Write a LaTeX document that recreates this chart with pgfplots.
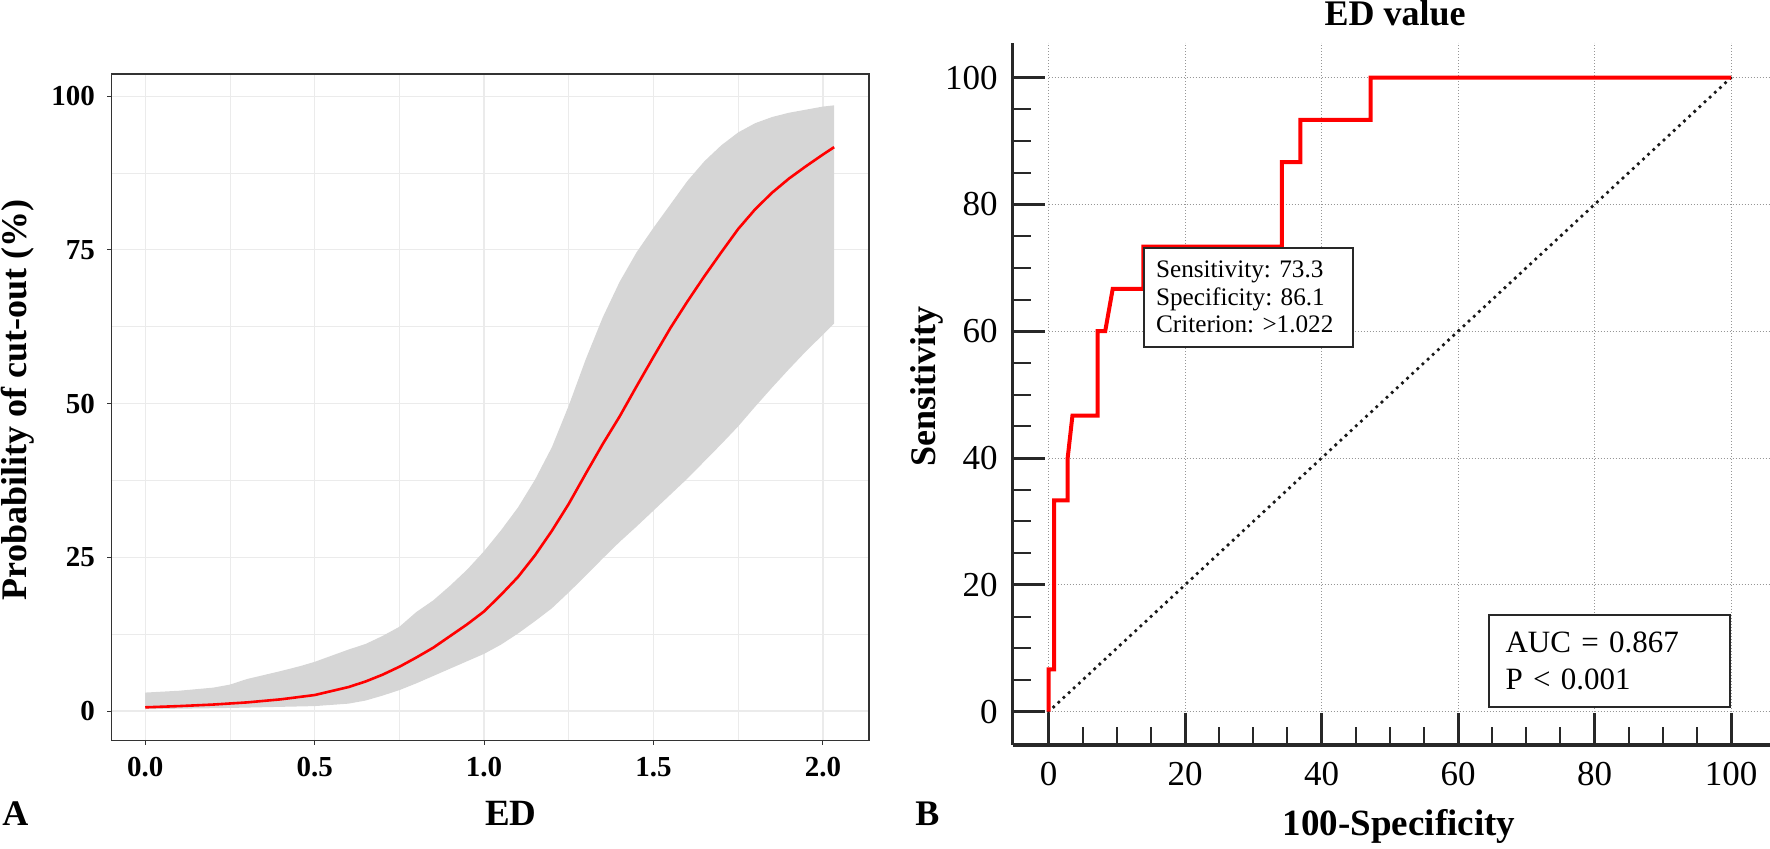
\documentclass[border=0pt]{standalone}
\usepackage{fontspec}
\setmainfont{Liberation Serif}
\usepackage{pgfplots}
\pgfplotsset{compat=1.18}
\usepgfplotslibrary{fillbetween}
\frenchspacing

\definecolor{band}{RGB}{214,214,214}
\definecolor{gridA}{RGB}{235,235,235}
\definecolor{frameA}{RGB}{51,51,51}
\definecolor{axB}{RGB}{40,40,40}
\definecolor{gridB}{RGB}{150,150,150}

\begin{document}
\begin{tikzpicture}[x=1pt,y=1pt]

% ---------- panel A: predicted probability ----------
\begin{axis}[
    at={(55.85pt,54.35pt)}, anchor=south west,
    scale only axis, width=378.65pt, height=333.15pt,
    xmin=-0.099, xmax=2.136, ymin=-4.76, ymax=103.6,
    axis line style={frameA, line width=0.6pt},
    xtick={0,0.5,1,1.5,2}, ytick={0,25,50,75,100},
    minor xtick={0.25,0.75,1.25,1.75},
    minor ytick={12.5,37.5,62.5,87.5},
    tick pos=left, tick align=outside,
    major tick length=2.2pt, minor tick length=0pt,
    tick style={frameA, line width=0.5pt},
    grid=both,
    major grid style={gridA, line width=0.6pt},
    minor grid style={gridA, line width=0.35pt},
    /pgf/number format/assume math mode=true,
    ticklabel style={font=\fontsize{14.5}{16}\selectfont\bfseries},
    xticklabel={\pgfmathprintnumber[fixed,fixed zerofill,precision=1]{\tick}},
    xticklabel style={inner ysep=6pt},
    yticklabel style={inner xsep=6pt},
]
% upper and lower limits of the confidence band
\addplot[name path=up, draw=none, forget plot] coordinates {
    (0.00,3.0) (0.10,3.3) (0.20,3.8) (0.25,4.3) (0.30,5.2) (0.40,6.5)
    (0.457,7.3) (0.50,8.0) (0.60,10.0) (0.65,10.9) (0.70,12.2) (0.75,13.7)
    (0.80,16.1) (0.85,18.0) (0.90,20.4) (0.95,23.0) (1.00,26.0) (1.05,29.4)
    (1.10,33.1) (1.15,37.6) (1.20,42.9) (1.25,49.7) (1.30,57.2) (1.35,64.0)
    (1.40,69.8) (1.45,74.6) (1.50,78.6) (1.55,82.4) (1.60,86.2) (1.65,89.4)
    (1.70,92.0) (1.75,94.1) (1.80,95.6) (1.85,96.6) (1.90,97.3) (1.95,97.8)
    (2.00,98.3) (2.033,98.5)
};
\addplot[name path=lo, draw=none, forget plot] coordinates {
    (0.00,0.3) (0.25,0.5) (0.50,0.8) (0.60,1.2) (0.65,1.7) (0.70,2.5)
    (0.75,3.4) (0.80,4.5) (0.85,5.7) (0.90,6.9) (0.95,8.1) (1.00,9.3)
    (1.05,10.8) (1.10,12.6) (1.15,14.6) (1.20,16.7) (1.25,19.3) (1.30,22.0)
    (1.35,24.8) (1.40,27.5) (1.45,30.0) (1.50,32.6) (1.55,35.2) (1.60,37.8)
    (1.65,40.6) (1.70,43.4) (1.75,46.3) (1.80,49.5) (1.85,52.6) (1.90,55.6)
    (1.95,58.5) (2.00,61.2) (2.033,63.0)
};
\addplot[band, draw=none] fill between[of=up and lo];
\addplot[red, line width=1.3pt] coordinates {
    (0.00,0.6) (0.10,0.8) (0.20,1.05) (0.30,1.4) (0.40,1.9) (0.50,2.6)
    (0.60,3.9) (0.65,4.8) (0.70,5.9) (0.75,7.2) (0.80,8.7) (0.85,10.3)
    (0.90,12.2) (0.95,14.1) (1.00,16.2) (1.05,18.9) (1.10,21.8) (1.15,25.3)
    (1.20,29.3) (1.25,33.7) (1.30,38.6) (1.35,43.4) (1.40,47.9) (1.45,52.8)
    (1.50,57.6) (1.55,62.3) (1.60,66.6) (1.65,70.7) (1.70,74.6) (1.75,78.4)
    (1.80,81.6) (1.85,84.3) (1.90,86.6) (1.95,88.6) (2.00,90.5) (2.033,91.7)
};
\end{axis}

% ---------- panel B: ROC curve ----------
\begin{axis}[
    at={(506.35pt,52pt)}, anchor=south west,
    scale only axis, width=378.65pt, height=351.15pt,
    xmin=-5.25, xmax=105.7, ymin=-5.25, ymax=105.5,
    axis lines=left, axis line style={-, axB, line width=1.7pt},
    xtick={0,20,...,100}, ytick={0,20,...,100},
    minor tick num=3,
    tick align=inside,
    major tick length=16pt, minor tick length=9pt,
    major tick style={axB, line width=1.5pt},
    minor tick style={axB, line width=1pt},
    /pgf/number format/assume math mode=true,
    ticklabel style={font=\fontsize{17.5}{20}\selectfont},
    xticklabel style={inner ysep=8.5pt},
    yticklabel style={inner xsep=7.3pt},
    clip=false,
]
\pgfplotsinvokeforeach{0,20,...,100}{
    \draw[gridB, line width=0.5pt, dash pattern=on 0.5pt off 1pt]
        (axis cs:#1,0) -- (axis cs:#1,105.5);
    \draw[gridB, line width=0.5pt, dash pattern=on 0.5pt off 1pt]
        (axis cs:0,#1) -- (axis cs:105.7,#1);
}
\addplot[black!90, line width=1.9pt, line cap=round, dash pattern=on 0pt off 3.5pt]
    coordinates {(0,0) (100,100)};
\addplot[red, line width=2pt] coordinates {
    (0,0) (0,6.67) (0.8,6.67) (0.8,33.33) (2.8,33.33) (2.8,40) (3.5,46.67)
    (7.2,46.67) (7.2,60) (8.3,60) (9.4,66.67) (13.9,66.67) (13.9,73.33)
    (34.2,73.33) (34.2,86.67) (36.9,86.67) (36.9,93.33) (47.2,93.33)
    (47.2,100) (100,100)
};
\node[draw=axB, line width=1pt, fill=white, anchor=north west,
      minimum width=104.4pt, minimum height=49.5pt, inner xsep=5.85pt,
      text width=92.7pt, align=left,
      font=\fontsize{12.6}{13.75}\selectfont]
    at (axis cs:13.9,73.33)
    {Sensitivity: 73.3\\Specificity: 86.1\\Criterion: >1.022};
\node[draw=axB, line width=1pt, fill=white, anchor=south east,
      minimum width=120.8pt, minimum height=46pt, inner xsep=8.5pt,
      text width=103.8pt, align=left,
      font=\fontsize{15.5}{18.2}\selectfont]
    at (axis cs:100,0.6)
    {AUC = 0.867\\P < 0.001};
\end{axis}

% ---------- titles and panel letters ----------
\node[rotate=90, font=\fontsize{18}{20}\selectfont\bfseries] at (8.9,224.5)
    {Probability of cut-out (\%)};
\node[anchor=base, font=\fontsize{18.5}{20}\selectfont\bfseries] at (255.5,11.5) {ED};
\node[anchor=base west, inner sep=0pt, font=\fontsize{18}{20}\selectfont\bfseries] at (1,11.5) {A};
\node[anchor=base west, inner sep=0pt, font=\fontsize{18}{20}\selectfont\bfseries] at (457.5,11.5) {B};
\node[rotate=90, font=\fontsize{18}{20}\selectfont\bfseries] at (463.3,231) {Sensitivity};
\node[anchor=base, font=\fontsize{18.5}{20}\selectfont\bfseries] at (699.5,6.5) {100-Specificity};
\node[anchor=base, font=\fontsize{18}{20}\selectfont\bfseries] at (697.5,411.5) {ED value};

\pgfresetboundingbox
\useasboundingbox (0,0) rectangle (885,424.5);
\end{tikzpicture}
\end{document}
